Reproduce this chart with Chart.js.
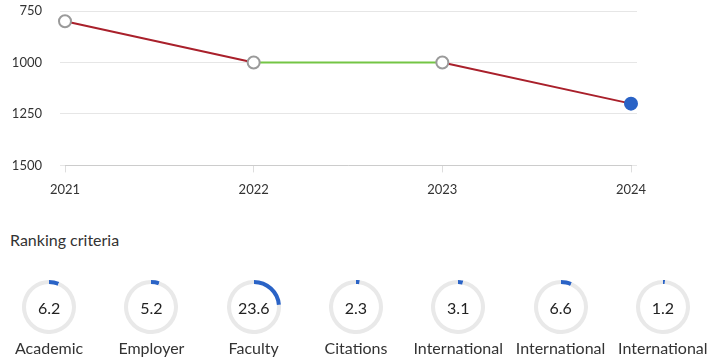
<!DOCTYPE html>
<html lang="en">
<head>
    <meta charset="UTF-8">
    <title>Ranking</title>
    <script src="https://cdn.jsdelivr.net/npm/chart.js"></script>
    <style>
        html, body { margin: 0; padding: 0; background: #fff; }
        body { width: 720px; height: 360px; overflow: hidden; position: relative; font-family: Lato, "Open Sans", sans-serif; color: #333; }
        .graficoRank { position: absolute; left: 0; top: 0; width: 720px; height: 212px; }
        .tituloCriterios { position: absolute; left: 10px; top: 230px; font-size: 16px; color: #333; }
        .criterios { position: absolute; left: -2px; top: 280px; width: 716px; display: flex; }
        .criterio { width: 102.3px; text-align: center; position: relative; }
        .criterio canvas { display: block; margin: 0 auto; }
        .valor { position: absolute; left: 0; right: 0; top: 18px; font-size: 16px; color: #222; line-height: 20px; }
        .nome { font-size: 16px; color: #333; margin: 4px auto 0; width: min-content; line-height: 20px; }
    </style>
</head>
<body>
    <div class="graficoRank"><canvas id="myChartRank" width="720" height="212"></canvas></div>
    <div class="tituloCriterios">Ranking criteria</div>
    <div class="criterios" id="div_criterios"></div>
</body>
</html>
<script>
    // dados
    var anos = ['2021', '2022', '2023', '2024'];
    var posicoes = [800, 1000, 1000, 1200];
    var ticksY = [750, 1000, 1250, 1500];

    var nomesCriterios = ['Academic Reputation', 'Employer Reputation', 'Faculty Student', 'Citations per Faculty',
        'International Faculty', 'International Students', 'International Research Network'];
    var notasCriterios = [6.2, 5.2, 23.6, 2.3, 3.1, 6.6, 1.2];

    var vermelho = '#a9202b';
    var verde = '#74c545';
    var azul = '#2a63c6';

    Chart.defaults.font.family = 'Lato';
    Chart.defaults.color = '#333';

    function ticksFixos(scale) {
        scale.ticks = ticksY.map(function (v) { return { value: v }; });
    }
    function paddingCurto(scale) {
        scale.paddingTop = 11;
        scale.paddingBottom = 0;
    }
    function larguraEixo(scale) {
        paddingCurto(scale);
        scale.width = 53;
    }

    const ctxRank = document.getElementById('myChartRank');

    var rank = new Chart(ctxRank, {
        type: 'line',
        data: {
            labels: anos,
            datasets: [{
                data: posicoes,
                borderWidth: 2,
                borderColor: vermelho,
                segment: {
                    borderColor: function (ctx) {
                        return ctx.p1.parsed.y > ctx.p0.parsed.y ? vermelho : verde;
                    }
                },
                pointRadius: 6,
                pointHoverRadius: 6,
                pointBorderWidth: 2,
                pointBorderColor: function (ctx) {
                    return ctx.dataIndex == posicoes.length - 1 ? azul : '#9a9a9a';
                },
                pointBackgroundColor: function (ctx) {
                    return ctx.dataIndex == posicoes.length - 1 ? azul : '#ffffff';
                },
                clip: false
            }]
        },
        options: {
            responsive: false,
            animation: false,
            layout: { padding: { left: 12, right: 83, top: 0, bottom: 4 } },
            plugins: { legend: { display: false }, tooltip: { enabled: false } },
            scales: {
                x: {
                    grid: { drawOnChartArea: false, drawTicks: true, tickLength: 7, color: '#dddddd' },
                    border: { display: true, color: '#cccccc' },
                    ticks: { padding: 10, font: { size: 13 }, color: '#333', maxRotation: 0 }
                },
                y: {
                    reverse: true,
                    min: 750,
                    max: 1500,
                    afterBuildTicks: ticksFixos,
                    afterFit: larguraEixo,
                    grid: { color: '#e6e6e6', tickLength: 5 },
                    border: { display: false },
                    ticks: {
                        padding: 18, font: { size: 13 }, color: '#333',
                        callback: function (v) { return String(v); }
                    }
                },
                y2: {
                    position: 'right',
                    reverse: true,
                    min: 750,
                    max: 1500,
                    afterBuildTicks: ticksFixos,
                    afterFit: paddingCurto,
                    grid: { drawOnChartArea: false, color: '#e6e6e6', tickLength: 6 },
                    border: { display: false },
                    ticks: { display: false }
                }
            }
        }
    });

    // medidores dos criterios
    for (var i = 0; i < notasCriterios.length; i++) {
        var bloco = document.createElement('div');
        bloco.className = 'criterio';
        bloco.innerHTML = '<canvas id="canvas_crit' + i + '" width="54" height="54"></canvas>' +
            '<div class="valor">' + notasCriterios[i] + '</div>' +
            '<div class="nome">' + nomesCriterios[i] + '</div>';
        div_criterios.appendChild(bloco);

        new Chart(document.getElementById('canvas_crit' + i), {
            type: 'doughnut',
            data: {
                labels: ['score', 'resto'],
                datasets: [{
                    data: [notasCriterios[i], 100 - notasCriterios[i]],
                    backgroundColor: [azul, '#e9e9e9'],
                    borderWidth: 0
                }]
            },
            options: {
                responsive: false,
                animation: false,
                cutout: '85%',
                plugins: { legend: { display: false }, tooltip: { enabled: false } }
            }
        });
    }
</script>
